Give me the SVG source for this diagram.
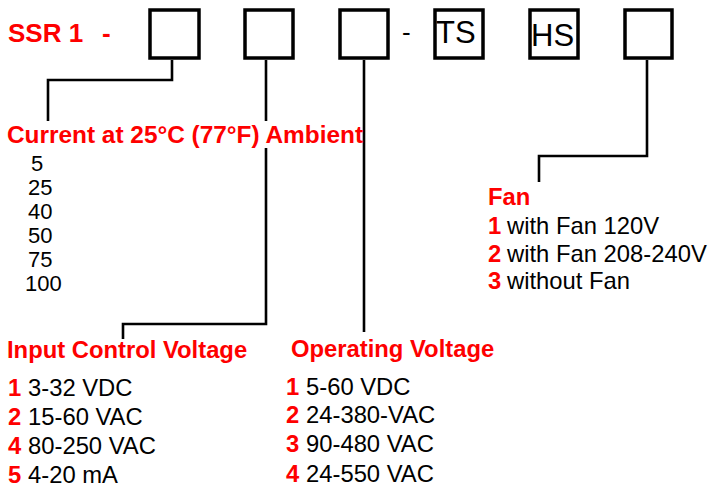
<svg xmlns="http://www.w3.org/2000/svg" width="708" height="488" viewBox="0 0 708 488">
<style>
text{font-family:"Liberation Sans",Arial,Helvetica,sans-serif}
.r{fill:#fe0000;font-weight:bold}
.k{fill:#000}
.box{fill:none;stroke:#000;stroke-width:3.5}
.ln{fill:none;stroke:#000;stroke-width:2.6}
.h{font-size:23.8px}
.it{font-size:23.8px}
</style>
<rect width="708" height="488" fill="#fff"/>
<g id="title"><text class="r" x="8" y="42" font-size="26">SSR 1<tspan x="102">-</tspan></text></g>
<g id="box-current"><rect class="box" x="150" y="10" width="49" height="48"/></g>
<g id="box-input"><rect class="box" x="245" y="10" width="48" height="48"/></g>
<g id="box-operating"><rect class="box" x="340" y="10" width="48" height="48"/></g>
<g id="dash"><text class="k" x="402" y="41" font-size="26">-</text></g>
<g id="box-ts"><rect class="box" x="435" y="10" width="48" height="48"/><text class="k" x="436" y="43" font-size="31">TS</text></g>
<g id="box-hs"><rect class="box" x="530" y="10" width="48" height="48"/><text class="k" x="531" y="46" font-size="31">HS</text></g>
<g id="box-fan"><rect class="box" x="625" y="10" width="47" height="48"/></g>
<g id="connectors">
<path class="ln" d="M172,60 V80 H48 V121"/>
<path class="ln" d="M266,60 V121 M266,148 V324 H123 V339"/>
<path class="ln" d="M364,60 V332"/>
<path class="ln" d="M647,60 V156 H539 V182"/>
</g>
<g id="current">
<text class="r" x="7" y="143" font-size="24.4">Current at 25°C (77°F) Ambient</text>
<g class="k" font-size="22">
<text x="31" y="171">5</text>
<text x="28" y="195">25</text>
<text x="28" y="219">40</text>
<text x="28" y="243">50</text>
<text x="28" y="267">75</text>
<text x="25" y="291">100</text>
</g>
</g>
<g id="input">
<text class="r h" x="7" y="358">Input Control Voltage</text>
<text class="it" x="8" y="396"><tspan class="r">1</tspan><tspan x="28">3-32 VDC</tspan></text>
<text class="it" x="8" y="425"><tspan class="r">2</tspan><tspan x="28">15-60 VAC</tspan></text>
<text class="it" x="8" y="454"><tspan class="r">4</tspan><tspan x="28">80-250 VAC</tspan></text>
<text class="it" x="8" y="483"><tspan class="r">5</tspan><tspan x="28">4-20 mA</tspan></text>
</g>
<g id="operating">
<text class="r h" x="291" y="357">Operating Voltage</text>
<text class="it" x="286" y="395"><tspan class="r">1</tspan><tspan x="306">5-60 VDC</tspan></text>
<text class="it" x="286" y="423"><tspan class="r">2</tspan><tspan x="306">24-380-VAC</tspan></text>
<text class="it" x="286" y="452"><tspan class="r">3</tspan><tspan x="306">90-480 VAC</tspan></text>
<text class="it" x="286" y="482"><tspan class="r">4</tspan><tspan x="306">24-550 VAC</tspan></text>
</g>
<g id="fan">
<text class="r h" x="488" y="205">Fan</text>
<text class="it" x="488" y="234"><tspan class="r">1</tspan><tspan x="507">with Fan 120V</tspan></text>
<text class="it" x="488" y="262"><tspan class="r">2</tspan><tspan x="507">with Fan 208-240V</tspan></text>
<text class="it" x="488" y="289"><tspan class="r">3</tspan><tspan x="507">without Fan</tspan></text>
</g>
</svg>
